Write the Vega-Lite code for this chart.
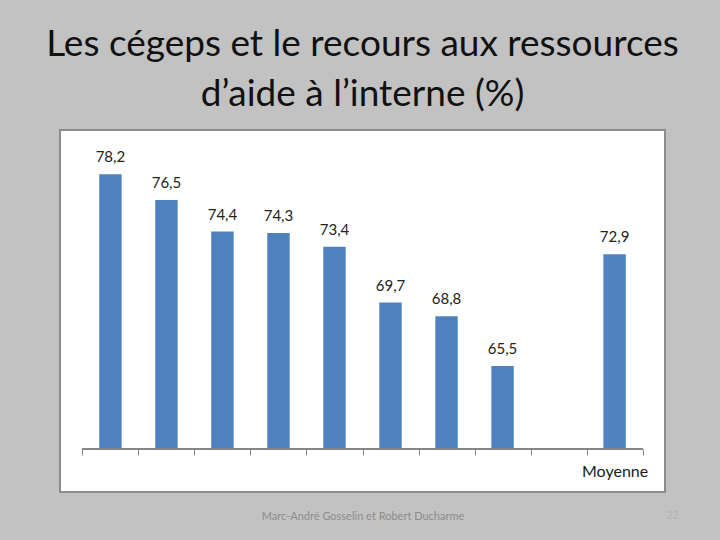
{
  "$schema": "https://vega.github.io/schema/vega-lite/v6.json",
  "width": 605,
  "height": 362,
  "autosize": "none",
  "padding": {"left": 60, "top": 130, "right": 55, "bottom": 48},
  "background": "#c2c2c2",
  "title": {
    "text": ["Les cégeps et le recours aux ressources", "d’aide à l’interne (%)"],
    "font": "Lato",
    "fontSize": 37,
    "fontWeight": "normal",
    "color": "#111111",
    "lineHeight": 50,
    "offset": 16,
    "anchor": "middle"
  },
  "data": {
    "values": [
      {"cegep": "Cégep 1", "pourcentage": 78.2},
      {"cegep": "Cégep 2", "pourcentage": 76.5},
      {"cegep": "Cégep 3", "pourcentage": 74.4},
      {"cegep": "Cégep 4", "pourcentage": 74.3},
      {"cegep": "Cégep 5", "pourcentage": 73.4},
      {"cegep": "Cégep 6", "pourcentage": 69.7},
      {"cegep": "Cégep 7", "pourcentage": 68.8},
      {"cegep": "Cégep 8", "pourcentage": 65.5},
      {"cegep": "Moyenne", "pourcentage": 72.9}
    ]
  },
  "encoding": {
    "x": {
      "field": "cegep",
      "type": "nominal",
      "scale": {
        "domain": ["Cégep 1", "Cégep 2", "Cégep 3", "Cégep 4", "Cégep 5", "Cégep 6", "Cégep 7", "Cégep 8", "vide", "Moyenne"],
        "paddingInner": 0,
        "paddingOuter": 0.4
      },
      "axis": {
        "orient": "bottom",
        "offset": -43,
        "title": "Marc-André Gosselin et Robert Ducharme",
        "titleFont": "Lato",
        "titleFontSize": 11,
        "titleFontWeight": "normal",
        "titleColor": "#8c8c8c",
        "titlePadding": 31,
        "domain": false,
        "tickColor": "#868686",
        "tickSize": 6,
        "tickBand": "extent",
        "grid": false,
        "labelAngle": 0,
        "labelExpr": "datum.value == 'Moyenne' ? 'Moyenne' : ''",
        "labelFont": "Lato",
        "labelFontSize": 16,
        "labelColor": "#1a1a1a",
        "labelPadding": 8
      }
    },
    "y": {
      "field": "pourcentage",
      "type": "quantitative",
      "scale": {"domain": [57.15, 81.13], "nice": false, "zero": false},
      "axis": {
        "orient": "right",
        "title": "22",
        "titleAngle": 0,
        "titleX": 7,
        "titleY": 385,
        "titleAlign": "center",
        "titleBaseline": "middle",
        "titleFont": "Lato",
        "titleFontSize": 11,
        "titleFontWeight": "normal",
        "titleColor": "#b4b4b4",
        "domain": false,
        "ticks": false,
        "labels": false,
        "grid": false
      }
    }
  },
  "layer": [
    {
      "mark": {"type": "bar", "color": "#4f81bd", "width": {"band": 0.4}},
      "encoding": {"y2": {"datum": 60}}
    },
    {
      "mark": {"type": "text", "baseline": "alphabetic", "dy": -12, "font": "Lato", "fontSize": 15, "color": "#222222"},
      "encoding": {"text": {"field": "pourcentage", "type": "quantitative", "format": ".1f"}}
    },
    {
      "mark": {"type": "rule", "color": "#868686", "strokeWidth": 1},
      "encoding": {
        "x": {"datum": "Cégep 1", "bandPosition": 0},
        "x2": {"datum": "Moyenne", "bandPosition": 1},
        "y": {"datum": 60}
      }
    }
  ],
  "config": {
    "view": {"fill": "white", "stroke": "#8c8c8c", "strokeWidth": 2},
    "locale": {
      "number": {"decimal": ",", "thousands": " ", "grouping": [3], "currency": ["", " $"]}
    }
  }
}
